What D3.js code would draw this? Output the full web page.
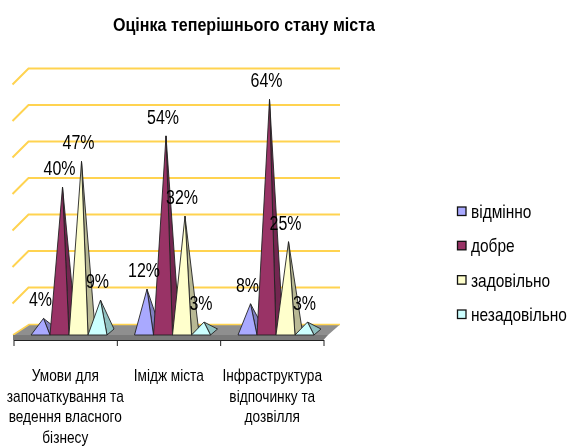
<!DOCTYPE html>
<html>
<head>
<meta charset="utf-8">
<script src="https://cdnjs.cloudflare.com/ajax/libs/d3/7.8.5/d3.min.js"></script>
<style>
  body { margin: 0; background: #fff; }
  svg { display: block; filter: blur(0.35px); }
  text { font-family: "Liberation Sans", Arial, sans-serif; fill: #000; }
</style>
</head>
<body>
<script>
// the data
var categories = [
  ["Умови для", "започаткування та", "ведення власного", "бізнесу"],
  ["Імідж міста"],
  ["Інфраструктура", "відпочинку та", "дозвілля"]
];
var seriesNames = ["відмінно", "добре", "задовільно", "незадовільно"];
var vidminno = [4, 12, 8];
var dobre = [40, 54, 64];
var zadovilno = [47, 32, 25];
var nezadovilno = [9, 3, 3];
var seriesValues = [vidminno, dobre, zadovilno, nezadovilno];
var gridTicks = [0, 10, 20, 30, 40, 50, 60, 70];

var frontColors = ["#a9a9ff", "#993366", "#ffffcc", "#ccffff"];
var sideColors = ["#7f7fc0", "#732650", "#b8b894", "#8fc0c0"];

var width = 568, height = 448;
var depth = 16;      // wall depth of the fake 3d box
var pyrDepth = 6;    // depth of one pyramid

var svg = d3.select("body").append("svg")
    .attr("width", width)
    .attr("height", height);

// set the ranges
var x = d3.scaleBand().domain(d3.range(categories.length)).range([13.5, 324]);
var y = d3.scaleLinear().domain([0, 70]).range([324, 68.5]);
var inner = d3.scaleBand().domain(d3.range(seriesNames.length))
    .range([17.5, 93.5]);

// the original font is a narrow one, so squeeze the text sideways
function label(px, py, str, size, squeeze, anchor, weight) {
  return svg.append("text")
      .attr("transform", "translate(" + px + "," + py + ") scale(" + squeeze + ",1)")
      .attr("text-anchor", anchor)
      .attr("font-size", size)
      .attr("font-weight", weight || "normal")
      .text(str);
}

// title
label(244, 30.5, "Оцінка теперішнього стану міста", 18, 0.893, "middle", "bold");

// gridlines on the back wall and left wall
gridTicks.slice(1).forEach(function(t) {
  svg.append("path")
      .attr("d", "M12.5," + (y(t) + depth) + "L28.5," + y(t) + "H340")
      .attr("fill", "none")
      .attr("stroke", "#ffd350")
      .attr("stroke-width", 2);
});

// floor
var fy = 335, by = 340;
svg.append("path")
    .attr("d", "M13," + fy + "L29,324.5H340L328," + fy + "Z")
    .attr("fill", "#8f8f8f");
svg.append("path")
    .attr("d", "M13," + fy + "L29,324.5H340")
    .attr("fill", "none")
    .attr("stroke", "#ffd350")
    .attr("stroke-width", 1.5);
svg.append("path")
    .attr("d", "M13," + fy + "H328L323.5," + by + "H13Z")
    .attr("fill", "#7a7a7a");

// x axis
var axis = d3.axisBottom(d3.scaleLinear().domain([0, 3]).range([13.5, 323.5]))
    .ticks(3).tickSize(6).tickSizeOuter(0).tickFormat("");
svg.append("g")
    .attr("transform", "translate(0," + by + ")")
    .call(axis)
    .call(function(g) { g.selectAll("line,path").attr("stroke", "#222"); });

// pyramids
seriesNames.forEach(function(name, s) {
  categories.forEach(function(c, i) {
    var v = seriesValues[s][i];
    var x0 = x(i) + inner(s);
    var x1 = x0 + inner.bandwidth();
    var ax = (x0 + x1) / 2 + pyrDepth / 2;
    var ay = y(v) + 9;
    var g = svg.append("g")
        .attr("stroke", "#222")
        .attr("stroke-width", 0.9)
        .attr("stroke-linejoin", "round");
    g.append("path")
        .attr("d", "M" + ax + "," + ay + "L" + x1 + "," + fy + "L" + (x1 + pyrDepth + 1) + "," + (fy - pyrDepth) + "Z")
        .attr("fill", sideColors[s]);
    g.append("path")
        .attr("d", "M" + ax + "," + ay + "L" + x0 + "," + fy + "L" + x1 + "," + fy + "Z")
        .attr("fill", frontColors[s]);
  });
});

// value labels
seriesNames.forEach(function(name, s) {
  categories.forEach(function(c, i) {
    var v = seriesValues[s][i];
    label(x(i) + inner(s) + inner.bandwidth() / 2, y(v) - 3, v + "%", 19.5, 0.82, "middle");
  });
});

// category labels
categories.forEach(function(lines, i) {
  lines.forEach(function(l, k) {
    label(x(i) + x.bandwidth() / 2, 381 + k * 20.5, l, 16, 0.855, "middle");
  });
});

// legend
var legendY = d3.scalePoint().domain(seriesNames).range([211.5, 314.5]);
seriesNames.forEach(function(name, s) {
  svg.append("rect")
      .attr("x", 457.5).attr("y", legendY(name) - 4.5)
      .attr("width", 8.5).attr("height", 8.5)
      .attr("fill", frontColors[s])
      .attr("stroke", "#111").attr("stroke-width", 1.3);
  label(471, legendY(name) + 6.5, name, 18, 0.86, "start");
});
</script>
</body>
</html>
